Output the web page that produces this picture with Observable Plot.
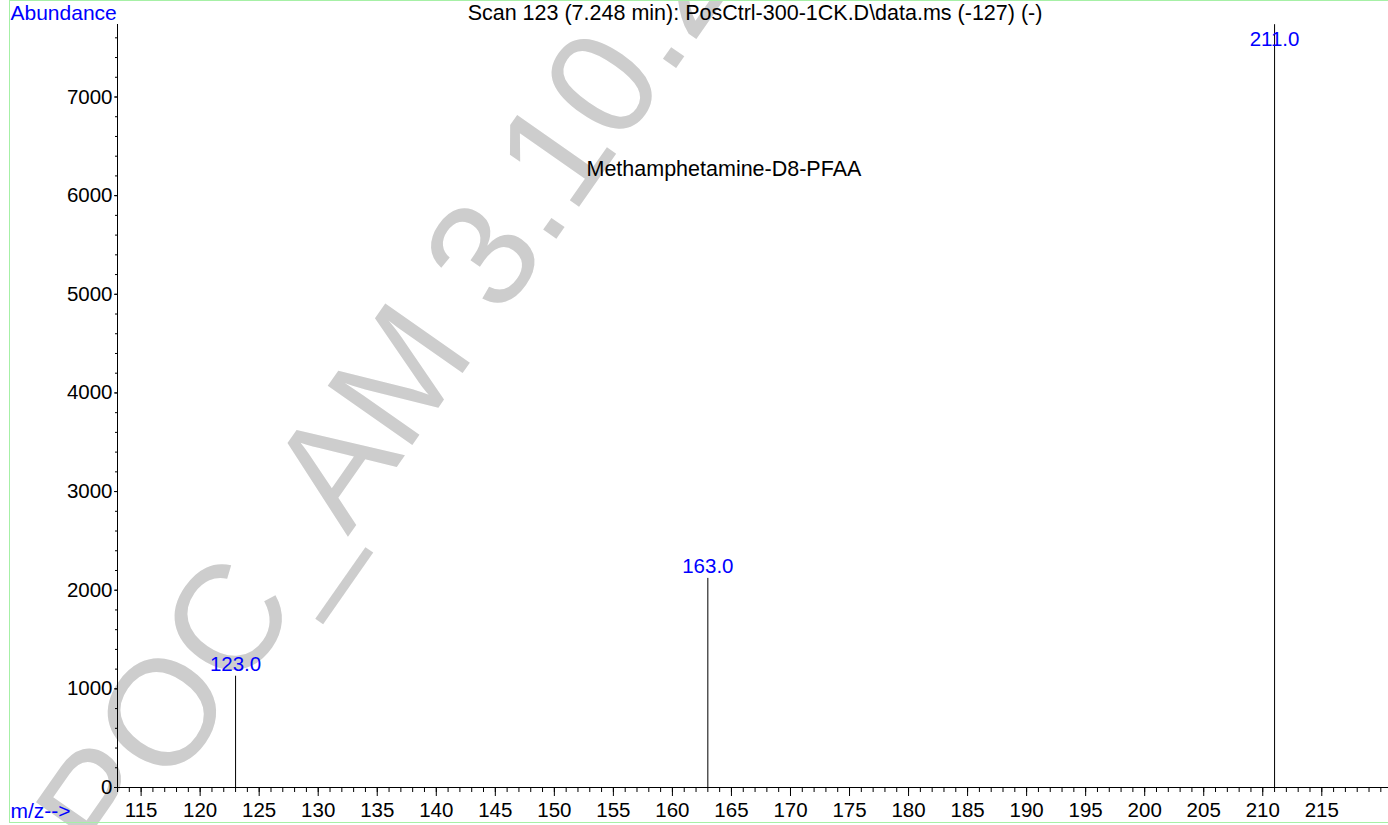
<!DOCTYPE html>
<html>
<head>
<meta charset="utf-8">
<script src="https://cdn.jsdelivr.net/npm/d3@7"></script>
<script src="https://cdn.jsdelivr.net/npm/@observablehq/plot@0.6"></script>
<style>
  html, body { margin: 0; padding: 0; background: white; overflow: hidden; }
  #wrap { position: relative; width: 1388px; height: 825px; }
  #border { position: absolute; left: 9px; top: 0; width: 2000px; height: 823px; box-sizing: border-box;
            border: 1px solid #a6f0a6; pointer-events: none; }
</style>
</head>
<body>
<div id="wrap"><div id="border"></div></div>
<script>
// ---- data ----
const mz = [123, 163, 211];
const abundance = [1128, 2120, 7733];
const peakLabels = ["123.0", "163.0", "211.0"];
const xDomain = [113, 220.65];
const yDomain = [0, 7735];
const xMajorTicks = d3.range(115, 216, 5);
const xMinorTicks = d3.range(113, 221, 1);
const yMajorTicks = d3.range(0, 7001, 1000);
const yMinorTicks = d3.range(0, 7735, 200);
const titleText = "Scan 123 (7.248 min): PosCtrl-300-1CK.D\\data.ms (-127) (-)";
const compoundText = "Methamphetamine-D8-PFAA";
const yLabelText = "Abundance";
const xLabelText = "m/z-->";
const watermarkText = "POC_AM 3.10.2023";

const peaks = mz.map((m, i) => ({mz: m, abundance: abundance[i], label: peakLabels[i]}));
const maxAb = d3.max(abundance);
const FONT = "'Liberation Sans', Arial, Helvetica, sans-serif";
const BLUE = "#0000ff";

const chart = Plot.plot({
  width: 1388,
  height: 825,
  marginLeft: 117,
  marginRight: 0,
  marginTop: 24,
  marginBottom: 38,
  style: {fontFamily: FONT, background: "white", color: "black"},
  x: {domain: xDomain, label: null},
  y: {domain: yDomain, label: null},
  marks: [
    // watermark (behind everything)
    Plot.text([watermarkText], {
      text: d => d, frameAnchor: "bottom-left", dx: -4, dy: 84, rotate: -55,
      textAnchor: "start", lineAnchor: "bottom", fontSize: 150, fill: "#cdcdcd", fontFamily: FONT
    }),
    // axes
    Plot.axisX({ticks: xMinorTicks, tickSize: 5, text: null, label: null}),
    Plot.axisX({ticks: xMajorTicks, tickSize: 9, tickPadding: 6, fontSize: 20.5, tickFormat: d => String(d), label: null}),
    Plot.axisY({ticks: yMinorTicks, tickSize: 2, text: null, label: null}),
    Plot.axisY({ticks: yMajorTicks, tickSize: 3, tickPadding: 2, fontSize: 20.5, tickFormat: d => String(d), label: null}),
    Plot.ruleX([xDomain[0]], {y1: yDomain[0], y2: yDomain[1], stroke: "black"}),
    Plot.ruleY([yDomain[0]], {x1: xDomain[0], x2: xDomain[1], stroke: "black"}),
    // peaks
    Plot.ruleX(peaks, {x: "mz", y1: 0, y2: "abundance", stroke: "black", strokeWidth: 1}),
    Plot.text(peaks.filter(d => d.abundance < maxAb), {
      x: "mz", y: "abundance", text: "label", dy: -5, lineAnchor: "bottom", fill: BLUE, fontSize: 20.5
    }),
    Plot.text(peaks.filter(d => d.abundance === maxAb), {
      x: "mz", y: "abundance", text: "label", dy: 21, lineAnchor: "bottom", fill: BLUE, fontSize: 20.5
    }),
    // titles / labels
    Plot.text([titleText], {text: d => d, frameAnchor: "top", dx: 2, dy: -11, lineAnchor: "middle", fontSize: 21.5, fill: "black"}),
    Plot.text([yLabelText], {text: d => d, frameAnchor: "top-left", dx: -107, dy: -11, textAnchor: "start", lineAnchor: "middle", fontSize: 21, fill: BLUE}),
    Plot.text([xLabelText], {text: d => d, frameAnchor: "bottom-left", dx: -107, dy: 24, textAnchor: "start", lineAnchor: "middle", fontSize: 21, fill: BLUE}),
    Plot.text([compoundText], {text: d => d, frameAnchor: "top-left", dx: 469, dy: 145, textAnchor: "start", lineAnchor: "middle", fontSize: 21.5, fill: "black"})
  ]
});
document.getElementById("wrap").insertBefore(chart, document.getElementById("border"));
</script>
</body>
</html>
